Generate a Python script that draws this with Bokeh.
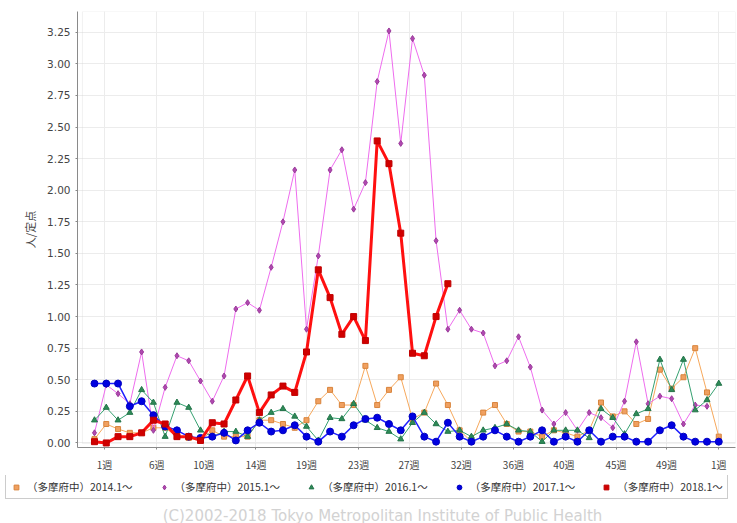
from bokeh.plotting import figure
from bokeh.layouts import column
from bokeh.models import (Range1d, FixedTicker, NumeralTickFormatter, Legend, LegendItem,
                          Label, BoxAnnotation)
from bokeh.embed import file_html
from bokeh.resources import INLINE

# ---- data (人/定点, weekly) ----
s2014 = [0.03, 0.15, 0.11, 0.08, 0.08, 0.12, 0.12, 0.05, 0.04, 0.02,
         0.10, 0.05, 0.05, 0.05, 0.18, 0.18, 0.15, 0.12, 0.18, 0.33,
         0.42, 0.30, 0.30, 0.61, 0.30, 0.42, 0.52, 0.19, 0.24, 0.47,
         0.30, 0.10, 0.01, 0.24, 0.30, 0.15, 0.09, 0.09, 0.05, 0.10,
         0.08, 0.05, 0.10, 0.32, 0.21, 0.25, 0.15, 0.19, 0.58, 0.43,
         0.52, 0.75, 0.40, 0.05]
s2015 = [0.08, 0.46, 0.39, 0.31, 0.72, 0.10, 0.44, 0.69, 0.65, 0.49,
         0.33, 0.53, 1.06, 1.11, 1.05, 1.39, 1.75, 2.16, 0.90, 1.48,
         2.16, 2.32, 1.85, 2.06, 2.86, 3.26, 2.37, 3.20, 2.91, 1.60,
         0.90, 1.05, 0.90, 0.87, 0.61, 0.65, 0.84, 0.60, 0.26, 0.15,
         0.24, 0.10, 0.24, 0.20, 0.12, 0.33, 0.80, 0.31, 0.37, 0.35,
         0.15, 0.30, 0.29]
s2016 = [0.18, 0.28, 0.18, 0.24, 0.42, 0.32, 0.05, 0.32, 0.28, 0.10,
         0.05, 0.09, 0.09, 0.05, 0.18, 0.24, 0.27, 0.21, 0.13, 0.02,
         0.20, 0.19, 0.31, 0.18, 0.12, 0.09, 0.03, 0.16, 0.24, 0.15,
         0.09, 0.10, 0.05, 0.10, 0.12, 0.15, 0.10, 0.09, 0.01, 0.10,
         0.10, 0.10, 0.04, 0.27, 0.20, 0.07, 0.23, 0.27, 0.66, 0.42,
         0.66, 0.26, 0.34, 0.47]
s2017 = [0.47, 0.47, 0.47, 0.29, 0.33, 0.22, 0.13, 0.10, 0.05, 0.04,
         0.05, 0.08, 0.02, 0.10, 0.16, 0.09, 0.10, 0.14, 0.05, 0.01,
         0.09, 0.05, 0.14, 0.19, 0.20, 0.15, 0.10, 0.21, 0.05, 0.01,
         0.16, 0.05, 0.01, 0.05, 0.10, 0.05, 0.01, 0.05, 0.10, 0.01,
         0.05, 0.01, 0.10, 0.01, 0.05, 0.05, 0.01, 0.01, 0.10, 0.14,
         0.05, 0.01, 0.01, 0.01]
s2018 = [0.01, 0.00, 0.05, 0.05, 0.08, 0.18, 0.15, 0.05, 0.05, 0.02,
         0.16, 0.15, 0.34, 0.53, 0.24, 0.38, 0.45, 0.40, 0.72, 1.37,
         1.15, 0.86, 1.00, 0.81, 2.39, 2.21, 1.66, 0.71, 0.69, 1.00,
         1.26]

series_labels = ["（多摩府中）2014.1～", "（多摩府中）2015.1～", "（多摩府中）2016.1～",
                 "（多摩府中）2017.1～", "（多摩府中）2018.1～"]
tick_labels = ["1週", "6週", "10週", "14週", "19週", "23週", "27週", "32週",
               "36週", "40週", "45週", "49週", "1週"]
month_start_day = [0, 31, 59, 90, 120, 151, 181, 212, 243, 273, 304, 334, 365]
y_ticks = [0.0, 0.25, 0.5, 0.75, 1.0, 1.25, 1.5, 1.75, 2.0, 2.25, 2.5, 2.75, 3.0, 3.25]
copyright_text = "(C)2002-2018 Tokyo Metropolitan Institute of Public Health"

JP = "Noto Sans CJK JP"

# ---------------- main chart ----------------
p = figure(width=737, height=475, output_backend="svg", toolbar_location=None,
           x_range=Range1d(-0.443, 55.42), y_range=Range1d(-0.036, 3.414),
           min_border_left=77, min_border_right=2, min_border_top=11,
           min_border_bottom=28)
p.outline_line_color = None
p.background_fill_color = "white"
p.border_fill_color = "white"

# plot-area border
p.add_layout(BoxAnnotation(left=-0.02, bottom=-0.004, fill_color=None,
                           line_color="#cfcfcf", line_width=1, level="underlay"))

tick_pos = [1.85 + d / 7.0 for d in month_start_day]
p.xaxis.ticker = FixedTicker(ticks=tick_pos)
p.xaxis.major_label_overrides = {t: l for t, l in zip(tick_pos, tick_labels)}
p.xaxis.minor_tick_line_color = None
p.xaxis.major_tick_out = 2
p.xaxis.major_tick_in = 0
p.xaxis.major_label_standoff = 7
p.xaxis.major_label_text_font = JP
p.xaxis.major_label_text_font_size = "10px"
p.xaxis.major_label_text_color = "#444444"
p.xaxis.axis_line_color = "#8a8a8a"
p.xaxis.major_tick_line_color = "#8a8a8a"

p.yaxis.ticker = FixedTicker(ticks=y_ticks)
p.yaxis.formatter = NumeralTickFormatter(format="0.00")
p.yaxis.minor_tick_line_color = None
p.yaxis.major_tick_out = 2
p.yaxis.major_tick_in = 0
p.yaxis.major_label_standoff = 5
p.yaxis.major_label_text_font = "DejaVu Sans"
p.yaxis.major_label_text_font_size = "10.5px"
p.yaxis.major_label_text_color = "#444444"
p.yaxis.axis_line_color = "#8a8a8a"
p.yaxis.major_tick_line_color = "#8a8a8a"
p.yaxis.axis_label = "人/定点"
p.yaxis.axis_label_text_font = JP
p.yaxis.axis_label_text_font_style = "normal"
p.yaxis.axis_label_text_font_size = "11px"
p.yaxis.axis_label_text_color = "#444444"
p.yaxis.axis_label_standoff = 6

p.xgrid.ticker = FixedTicker(ticks=tick_pos)
p.xgrid.grid_line_color = "#ececec"
p.ygrid.grid_line_color = "#ececec"

styles = [
    dict(line="#f6a85c", lw=1, marker="square", size=5, fill="#f0a060", mline="#d8843c"),
    dict(line="#ee6cee", lw=1, marker="diamond", size=6, fill="#b048b0", mline="#9a3a9a"),
    dict(line="#35a070", lw=1, marker="triangle", size=6, fill="#2e8b57", mline="#23744a"),
    dict(line="#1f1fff", lw=1.5, marker="circle", size=7, fill="#0000e0", mline="#0000c0"),
    dict(line="#ff1010", lw=3, marker="square", size=6, fill="#d00000", mline="#c00000"),
]
all_series = [s2014, s2015, s2016, s2017, s2018]
for vals, st in zip(all_series, styles):
    xs = list(range(1, len(vals) + 1))
    p.line(xs, vals, line_color=st["line"], line_width=st["lw"])
    p.scatter(xs, vals, marker=st["marker"], size=st["size"], fill_color=st["fill"],
              line_color=st["mline"])

# ---------------- legend + credit strip ----------------
q = figure(width=737, height=48, output_backend="svg", toolbar_location=None,
           x_range=Range1d(0, 737), y_range=Range1d(0, 48),
           min_border_left=0, min_border_right=0, min_border_top=0, min_border_bottom=0)
q.frame_align = False
q.axis.visible = False
q.grid.visible = False
q.outline_line_color = None
q.background_fill_color = "white"
q.border_fill_color = "white"

items = []
for st, lab in zip(styles, series_labels):
    # legend swatch only: one point placed outside the visible range
    proxy = q.scatter(x=[-50], y=[-50], marker=st["marker"], size=st["size"] + 1,
                      fill_color=st["fill"], line_color=st["mline"])
    items.append(LegendItem(label=lab, renderers=[proxy]))

legend = Legend(items=items, orientation="horizontal", location=(5, 24),
                label_text_font=JP, label_text_font_size="10.5px",
                label_text_color="#333333", glyph_width=12, glyph_height=14,
                label_height=14, label_standoff=5, spacing=25, padding=4, margin=0,
                border_line_color="#9a9a9a", border_line_width=1,
                background_fill_color="white", background_fill_alpha=1.0)
q.add_layout(legend, "center")

q.add_layout(Label(x=382, y=8, text=copyright_text,
                   text_align="center", text_baseline="middle",
                   text_font="DejaVu Sans", text_font_size="15px",
                   text_color="#d2d2d2"))

layout = column(p, q, spacing=0)
open("out.html", "w").write(file_html(layout, INLINE))
